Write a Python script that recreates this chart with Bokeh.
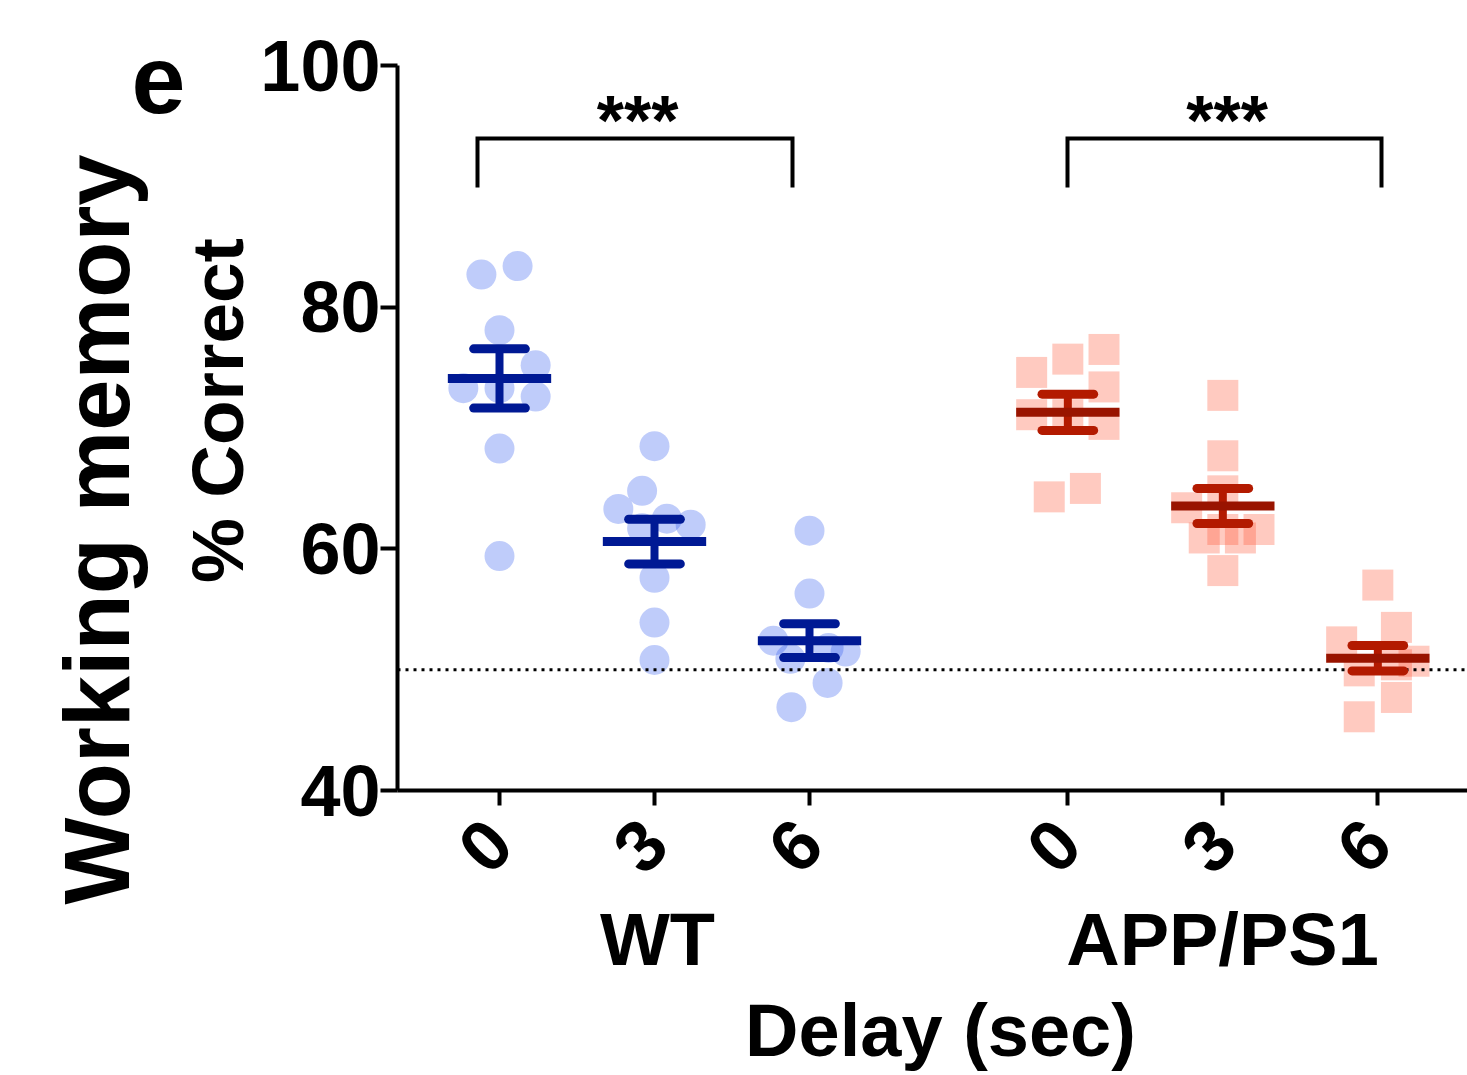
import math
from bokeh.plotting import figure
from bokeh.models import FixedTicker, Label, LinearAxis, Range1d
from bokeh.embed import file_html
from bokeh.resources import INLINE

# ---------------- data ----------------
delay_labels = ["0", "3", "6"]
group_names = ["WT", "APP/PS1"]
wt_positions = [3, 6, 9]
app_positions = [14, 17, 20]
chance_level = 50

# individual animals, % correct
wt_0 = [82.7, 83.4, 78.1, 75.2, 73.3, 73.3, 72.6, 68.3, 59.4]
wt_3 = [68.5, 64.8, 63.3, 62.5, 62.0, 61.7, 57.6, 53.9, 50.8]
wt_6 = [61.5, 56.3, 52.4, 51.5, 50.9, 51.8, 48.9, 46.9]
app_0 = [74.6, 75.7, 76.5, 73.4, 71.1, 71.1, 70.3, 64.3, 65.0]
app_3 = [72.7, 67.7, 64.8, 63.4, 60.9, 60.9, 61.6, 61.6, 58.2]
app_6 = [57.0, 53.5, 52.3, 50.7, 49.9, 50.4, 47.7, 46.1]

# horizontal scatter offsets (column spread) for each point
wt_0_jit = [-0.35, 0.35, 0, 0.7, -0.7, 0, 0.7, 0, 0]
wt_3_jit = [0, -0.24, -0.7, 0.24, 0.7, -0.24, 0, 0, 0]
wt_6_jit = [0, 0, -0.7, 0.7, -0.37, 0.37, 0.35, -0.35]
app_0_jit = [-0.7, 0, 0.7, 0.7, -0.7, 0, 0.7, -0.36, 0.34]
app_3_jit = [0, 0, 0, -0.7, -0.36, 0.34, 0, 0.7, 0]
app_6_jit = [0, 0.36, -0.7, 0.7, -0.36, 0.36, 0.36, -0.36]

# group mean and SEM
wt_mean = [74.1, 60.6, 52.4]
wt_sem = [2.45, 1.85, 1.4]
app_mean = [71.3, 63.55, 50.95]
app_sem = [1.5, 1.45, 1.05]

stars = ["***", "***"]

# ---------------- figure geometry ----------------
W, H = 1467, 1075
LEFT, TOP, FRAME_H = 397, 65, 725
BOTTOM = H - TOP - FRAME_H
PX_PER_X = 155 / 3.0
X0 = 3 - (499 - LEFT) / PX_PER_X
X1 = X0 + (W - LEFT) / PX_PER_X

def px2x(px):
    return 3 + (px - 499) / PX_PER_X

def py2y(py):
    return 100 - (py - TOP) * 60.0 / FRAME_H

FONT = "Liberation Sans"

p = figure(width=W, height=H, x_range=(X0, X1), y_range=(40, 100),
           output_backend="svg", toolbar_location=None,
           min_border_left=LEFT, min_border_right=0,
           min_border_top=TOP, min_border_bottom=BOTTOM)
p.outline_line_color = None
p.xgrid.visible = False
p.ygrid.visible = False
p.background_fill_color = "white"
p.border_fill_color = "white"

# pixel-position ranges used only to place the text-only axes
p.extra_x_ranges = {"px": Range1d(start=LEFT, end=W)}
p.extra_y_ranges = {"py": Range1d(start=TOP + FRAME_H, end=TOP)}

# y axis
p.yaxis.ticker = FixedTicker(ticks=[40, 60, 80, 100])
p.yaxis.axis_line_width = 4
p.yaxis.major_tick_line_width = 4
p.yaxis.major_tick_out = 17
p.yaxis.major_tick_in = 0
p.yaxis.minor_tick_line_color = None
p.yaxis.major_label_text_font = FONT
p.yaxis.major_label_text_font_style = "bold"
p.yaxis.major_label_text_font_size = "72px"
p.yaxis.major_label_text_color = "black"
p.yaxis.major_label_standoff = 0

# x axis
positions = wt_positions + app_positions
p.xaxis.ticker = FixedTicker(ticks=positions)
p.xaxis.major_label_overrides = {pos: lab for pos, lab in zip(positions, delay_labels * 2)}
p.xaxis.major_label_orientation = math.pi / 4
p.xaxis.axis_line_width = 4
p.xaxis.major_tick_line_width = 4
p.xaxis.major_tick_out = 15
p.xaxis.major_tick_in = 0
p.xaxis.minor_tick_line_color = None
p.xaxis.major_label_text_font = FONT
p.xaxis.major_label_text_font_style = "bold"
p.xaxis.major_label_text_font_size = "72px"
p.xaxis.major_label_text_color = "black"
p.xaxis.major_label_standoff = 26

# text-only axes (titles, group names, panel letter)
def text_axis(side, tick_px, text, size, standoff, orientation="horizontal"):
    if side in ("left", "right"):
        ax = LinearAxis(y_range_name="py")
    else:
        ax = LinearAxis(x_range_name="px")
    ticks = tick_px if isinstance(tick_px, list) else [tick_px]
    texts = text if isinstance(text, list) else [text]
    ax.ticker = FixedTicker(ticks=ticks)
    ax.major_label_overrides = {t: s for t, s in zip(ticks, texts)}
    ax.axis_line_color = None
    ax.major_tick_line_color = None
    ax.minor_tick_line_color = None
    ax.major_tick_out = 0
    ax.major_tick_in = 0
    ax.major_label_standoff = standoff
    ax.major_label_orientation = orientation
    ax.major_label_text_font = FONT
    ax.major_label_text_font_style = "bold"
    ax.major_label_text_font_size = size
    ax.major_label_text_color = "black"
    p.add_layout(ax, side)
    return ax

text_axis("left", 410, "% Correct", "73px", 0, "vertical")
text_axis("left", 79, "e", "97px", -12, "horizontal")
text_axis("left", 529, "Working memory", "92px", -19, "vertical")
text_axis("below", [657, 1222], group_names, "74px", -1, "horizontal")
text_axis("below", 940, "Delay (sec)", "74px", 5, "horizontal")

# points
def pts(pos, vals, jit):
    return [pos + j for j in jit[:len(vals)]], vals

for pos, vals, jit in zip(wt_positions, [wt_0, wt_3, wt_6], [wt_0_jit, wt_3_jit, wt_6_jit]):
    xs, ys = pts(pos, vals, jit)
    p.scatter(xs, ys, marker="circle", size=30, fill_color="#2a56f0",
              fill_alpha=0.3, line_color=None)
for pos, vals, jit in zip(app_positions, [app_0, app_3, app_6], [app_0_jit, app_3_jit, app_6_jit]):
    xs, ys = pts(pos, vals, jit)
    p.scatter(xs, ys, marker="square", size=31, fill_color="#ff5030",
              fill_alpha=0.3, line_color=None)

# chance line
p.line([X0, X1], [chance_level, chance_level], line_color="black",
       line_width=3, line_dash="3 5")

# mean +- SEM
def bars(pos, mean, sem, mean_color, err_color):
    lo = [m - s for m, s in zip(mean, sem)]
    hi = [m + s for m, s in zip(mean, sem)]
    p.segment(x0=pos, y0=lo, x1=pos, y1=hi, line_color=err_color,
              line_width=8, line_cap="butt")
    p.segment(x0=[x - 0.5 for x in pos], y0=hi, x1=[x + 0.5 for x in pos], y1=hi,
              line_color=err_color, line_width=9, line_cap="round")
    p.segment(x0=[x - 0.5 for x in pos], y0=lo, x1=[x + 0.5 for x in pos], y1=lo,
              line_color=err_color, line_width=9, line_cap="round")
    p.segment(x0=[x - 1.0 for x in pos], y0=mean, x1=[x + 1.0 for x in pos], y1=mean,
              line_color=mean_color, line_width=9, line_cap="butt")

bars(wt_positions, wt_mean, wt_sem, "#001994", "#001994")
bars(app_positions, app_mean, app_sem, "#991400", "#b31a00")

# significance brackets
br_top = py2y(138)
br_bot = py2y(187)
for (xa, xb), s in zip([(px2x(477), px2x(792)), (px2x(1067), px2x(1381))], stars):
    p.line([xa, xa, xb, xb], [br_bot, br_top, br_top, br_bot], line_color="black",
           line_width=4, line_join="miter")
    p.add_layout(Label(x=(xa + xb) / 2 + 0.05, y=py2y(120), text=s, text_font=FONT,
                       text_font_style="bold", text_font_size="70px", text_color="black",
                       text_align="center", text_baseline="alphabetic"))

open("out.html", "w").write(file_html(p, INLINE))
